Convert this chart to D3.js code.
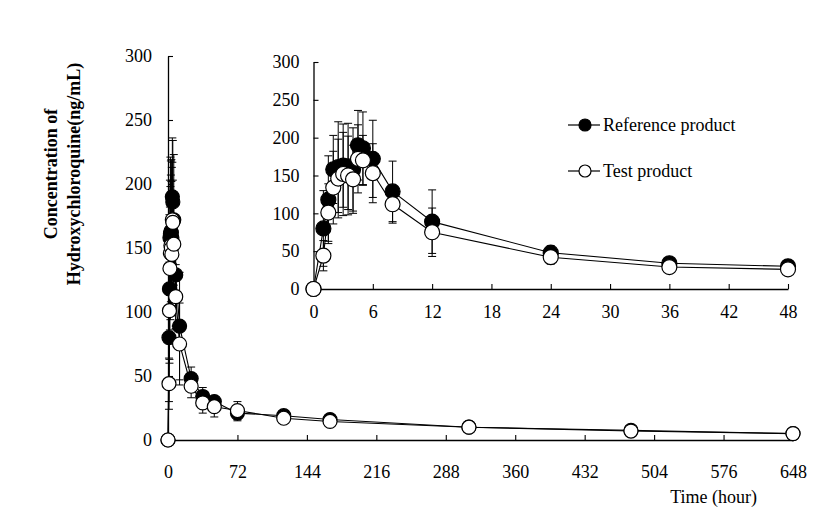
<!DOCTYPE html>
<html>
<head>
<meta charset="utf-8">
<script src="https://cdn.jsdelivr.net/npm/d3@7"></script>
<style>
  html, body { margin: 0; padding: 0; background: #fff; }
  svg { display: block; }
  text { font-family: "Liberation Serif", "Times New Roman", serif; fill: #000; }
</style>
</head>
<body>
<svg id="chart" width="827" height="520"></svg>
<script>
// ---- data ----
const times    = [0, 1, 1.5, 2, 2.5, 3, 3.5, 4, 4.5, 5, 6, 8, 12, 24, 36, 48, 72, 120, 168, 312, 480, 648];
const refMean  = [0, 80, 118, 158, 161, 163, 162, 158, 190, 186, 172, 129, 89, 48, 34, 30, 21, 19, 16, 10, 7.5, 5];
const refSD    = [0, 50, 58, 45, 60, 55, 57, 55, 46, 48, 51, 40, 42, 9, 7, 4, 6, 4, 3, 2, 2, 1];
const testMean = [0, 44, 101, 134, 146, 152, 150, 145, 172, 170, 153, 112, 75, 42, 29, 26, 23, 17, 14.5, 10, 7, 5];
const testSD   = [0, 20, 38, 48, 52, 55, 52, 45, 45, 33, 39, 25, 32, 9, 8, 8, 7, 4, 3, 2, 2, 1];
const mainXTicks  = [0, 72, 144, 216, 288, 360, 432, 504, 576, 648];
const yTicks      = [0, 50, 100, 150, 200, 250, 300];
const insetXTicks = [0, 6, 12, 18, 24, 30, 36, 42, 48];
const seriesNames = ["Reference product", "Test product"];
const yLabelLines = ["Concentration of", "Hydroxychloroquine(ng/mL)"];
const xLabel = "Time (hour)";

const refData  = times.map((t, i) => ({ t, m: refMean[i],  sd: refSD[i] }));
const testData = times.map((t, i) => ({ t, m: testMean[i], sd: testSD[i] }));
const series = [
  { name: seriesNames[0], data: refData,  fill: "#000" },
  { name: seriesNames[1], data: testData, fill: "#fff" }
];

const svg = d3.select("#chart");
const FS = 18;

function drawPanel(g, x, y, xTickVals, opts) {
  const xAxis = d3.axisBottom(x).tickValues(xTickVals).tickSizeInner(-5).tickSizeOuter(0).tickPadding(opts.xPad);
  const yAxis = d3.axisLeft(y).tickValues(yTicks).tickSizeInner(-5).tickSizeOuter(0).tickPadding(opts.yPad);
  const ya = g.append("g").attr("transform", `translate(${x.range()[0]},0)`).call(yAxis);
  const xa = g.append("g").attr("transform", `translate(0,${y.range()[0]})`).call(xAxis);
  [xa, ya].forEach(a => {
    a.attr("font-family", "Liberation Serif").attr("font-size", FS);
    a.select(".domain").attr("stroke", "#000").attr("stroke-width", 1.3);
    a.selectAll(".tick line").attr("stroke", "#000").attr("stroke-width", 1.1);
    a.selectAll(".tick text").attr("fill", "#000");
  });
  const line = d3.line().x(d => x(d.t)).y(d => y(d.m));
  series.forEach(s => {
    const sd = s.data.filter(d => d.t <= x.domain()[1]);
    g.append("path").datum(sd).attr("d", line).attr("fill", "none").attr("stroke", "#000").attr("stroke-width", 1.1);
  });
  series.forEach(s => {
    const sd = s.data.filter(d => d.t <= x.domain()[1] && d.sd > 0);
    const eb = g.append("g").attr("stroke", "#000").attr("stroke-width", 1);
    sd.forEach(d => {
      const cx = x(d.t);
      eb.append("line").attr("x1", cx).attr("x2", cx).attr("y1", y(d.m - d.sd)).attr("y2", y(d.m + d.sd));
      eb.append("line").attr("x1", cx - 4).attr("x2", cx + 4).attr("y1", y(d.m + d.sd)).attr("y2", y(d.m + d.sd));
      eb.append("line").attr("x1", cx - 4).attr("x2", cx + 4).attr("y1", y(d.m - d.sd)).attr("y2", y(d.m - d.sd));
    });
  });
  series.forEach(s => {
    const sd = s.data.filter(d => d.t <= x.domain()[1]);
    g.append("g").selectAll("circle").data(sd).join("circle")
      .attr("cx", d => x(d.t)).attr("cy", d => y(d.m)).attr("r", opts.r)
      .attr("fill", s.fill).attr("stroke", "#000").attr("stroke-width", 1.2);
  });
}

// ---- main panel ----
const xMain = d3.scaleLinear().domain([0, 648]).range([168, 793]);
const yMain = d3.scaleLinear().domain([0, 300]).range([440, 56]);
drawPanel(svg.append("g"), xMain, yMain, mainXTicks, { xPad: 25, yPad: 16, r: 7 });

// ---- inset panel ----
const xIn = d3.scaleLinear().domain([0, 48]).range([313.5, 788]);
const yIn = d3.scaleLinear().domain([0, 300]).range([289, 62]);
drawPanel(svg.append("g"), xIn, yIn, insetXTicks, { xPad: 16, yPad: 14, r: 7.5 });

// ---- axis labels ----
const yl = svg.append("text")
  .attr("transform", "translate(57,174) rotate(-90)")
  .attr("text-anchor", "middle").attr("font-weight", "bold").attr("font-size", FS);
yl.append("tspan").attr("x", 0).attr("y", 0).text(yLabelLines[0]);
yl.append("tspan").attr("x", 0).attr("y", 23).text(yLabelLines[1]);

svg.append("text").attr("x", 757).attr("y", 503).attr("text-anchor", "end")
  .attr("font-size", FS).text(xLabel);

// ---- legend ----
const legY = [125, 171];
series.forEach((s, i) => {
  const lg = svg.append("g");
  lg.append("line").attr("x1", 568).attr("x2", 600).attr("y1", legY[i]).attr("y2", legY[i])
    .attr("stroke", "#000").attr("stroke-width", 1.2);
  lg.append("circle").attr("cx", 585).attr("cy", legY[i]).attr("r", 6)
    .attr("fill", s.fill).attr("stroke", "#000").attr("stroke-width", 1.2);
  lg.append("text").attr("x", 603).attr("y", legY[i] + 6).attr("font-size", FS).text(s.name);
});
</script>
</body>
</html>
